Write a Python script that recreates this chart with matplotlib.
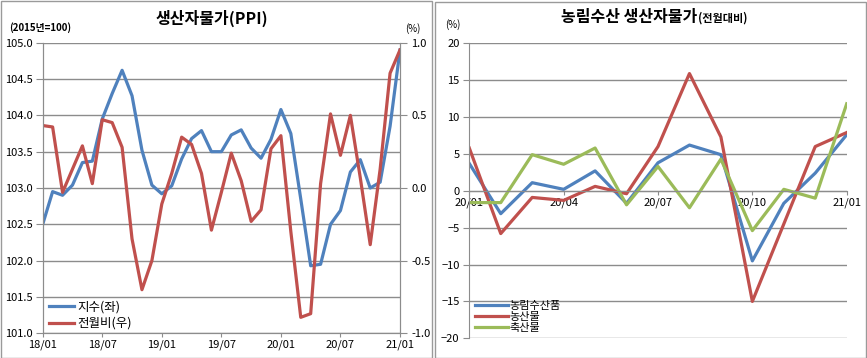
import matplotlib
matplotlib.use('Agg')
import matplotlib.pyplot as plt
from matplotlib.patches import Rectangle

plt.rcParams['font.family'] = ['Noto Sans CJK KR', 'DejaVu Sans']

# 생산자물가 (18/01 ~ 21/01, monthly)
ppi_months = ["18/01", "18/07", "19/01", "19/07", "20/01", "20/07", "21/01"]
ppi_index = [102.50, 102.95, 102.90, 103.04, 103.35, 103.37, 103.95, 104.30, 104.62, 104.27,
             103.52, 103.04, 102.92, 103.03, 103.40, 103.68, 103.79, 103.50, 103.50, 103.73,
             103.80, 103.55, 103.41, 103.67, 104.08, 103.75, 102.85, 101.93, 101.95, 102.50,
             102.69, 103.22, 103.39, 103.00, 103.08, 103.85, 104.90]
ppi_mom = [0.43, 0.42, -0.03, 0.13, 0.29, 0.03, 0.47, 0.45, 0.28, -0.35,
           -0.70, -0.50, -0.11, 0.10, 0.35, 0.30, 0.10, -0.29, -0.03, 0.24,
           0.05, -0.23, -0.15, 0.27, 0.36, -0.30, -0.89, -0.865, 0.03, 0.51,
           0.225, 0.50, 0.07, -0.39, 0.13, 0.79, 0.95]

# 농림수산 생산자물가 (20/01 ~ 21/01)
agri_months = ["20/01", "20/04", "20/07", "20/10", "21/01"]
agri_total = [3.7, -3.1, 1.1, 0.2, 2.7, -1.7, 3.8, 6.2, 4.9, -9.5, -1.7, 2.4, 7.6]
agri_farm = [5.8, -5.8, -0.9, -1.3, 0.6, -0.4, 6.0, 15.9, 7.3, -15.0, -4.5, 6.0, 7.9]
agri_live = [-1.6, -1.6, 4.9, 3.6, 5.8, -1.9, 3.3, -2.3, 4.3, -5.4, 0.2, -1.0, 11.8]

blue = '#4F81BD'
red = '#C0504D'
green = '#9BBB59'
grid = '#8C8C8C'

W, H = 867, 358
fig = plt.figure(figsize=(W / 100, H / 100), dpi=100)


def box(x0, y0, x1, y1):
    return [x0 / W, 1 - y1 / H, (x1 - x0) / W, (y1 - y0) / H]


# panel frames
for x0, y0, x1, y1 in [(0.5, 0.5, 431.5, 357.5), (434.5, 1.5, 866, 357.5)]:
    fig.patches.append(Rectangle((x0 / W, 1 - y1 / H), (x1 - x0) / W, (y1 - y0) / H,
                                 transform=fig.transFigure, fill=False,
                                 edgecolor='#9A9A9A', lw=1))

# ---- left chart ----
ax = fig.add_axes(box(42.7, 42.7, 400, 333.3))
x = list(range(len(ppi_index)))
ax.plot(x, ppi_index, color=blue, lw=2.3, label='지수(좌)')
ax.set_xlim(0, 36)
ax.set_ylim(101.0, 105.0)
ax.set_yticks([101.0 + 0.5 * i for i in range(9)])
ax.set_yticklabels(['%.1f' % (101.0 + 0.5 * i) for i in range(9)])
ax.set_xticks(list(range(0, 37, 6)))
ax.set_xticklabels(ppi_months)
ax.grid(axis='y', color=grid, lw=1)
ax.set_axisbelow(True)
ax.spines['top'].set_visible(False)
for s in ['left', 'right', 'bottom']:
    ax.spines[s].set_color(grid)
ax.tick_params(axis='y', length=5, color=grid, labelsize=8, pad=2)
ax.tick_params(axis='x', length=3, color=grid, labelsize=8, pad=1.5)

ax2 = ax.twinx()
ax2.plot(x, ppi_mom, color=red, lw=2.3, label='전월비(우)')
ax2.set_ylim(-1.0, 1.0)
ax2.set_yticks([-1.0, -0.5, 0.0, 0.5, 1.0])
ax2.set_yticklabels(['-1.0', '-0.5', '0.0', '0.5', '1.0'])
ax2.spines['top'].set_visible(False)
for s in ['left', 'right', 'bottom']:
    ax2.spines[s].set_color(grid)
ax2.tick_params(axis='y', length=5, color=grid, labelsize=8, pad=3)

h1, l1 = ax.get_legend_handles_labels()
h2, l2 = ax2.get_legend_handles_labels()
ax2.legend(h1 + h2, l1 + l2, loc='lower left', bbox_to_anchor=(0.0, -0.01),
           frameon=False, fontsize=9, handlelength=2.0, handletextpad=0.3,
           labelspacing=0.25, borderaxespad=0.2, borderpad=0.3)

fig.text(212 / W, 1 - 18 / H, '생산자물가(PPI)', ha='center', va='center',
         fontsize=11.5, fontweight='bold')
fig.text(9 / W, 1 - 28 / H, '(2015년=100)', ha='left', va='center',
         fontsize=7, fontweight='bold')
fig.text(413 / W, 1 - 29 / H, '(%)', ha='center', va='center', fontsize=7)

# ---- right chart ----
bx = fig.add_axes(box(469.3, 43.3, 846.7, 338.3))
xr = list(range(len(agri_total)))
bx.plot(xr, agri_total, color=blue, lw=2.3, label='농림수산품')
bx.plot(xr, agri_farm, color=red, lw=2.3, label='농산물')
bx.plot(xr, agri_live, color=green, lw=2.3, label='축산물')
bx.set_xlim(0, 12)
bx.set_ylim(-20, 20)
bx.set_yticks(list(range(-20, 21, 5)))
bx.grid(axis='y', color=grid, lw=1)
bx.set_axisbelow(True)
for s in ['top', 'right']:
    bx.spines[s].set_visible(False)
bx.spines['left'].set_color(grid)
bx.spines['bottom'].set_color(grid)
bx.spines['bottom'].set_position(('data', 0))
bx.set_xticks(list(range(0, 13, 3)))
bx.set_xticklabels(agri_months)
bx.tick_params(axis='y', length=4, color=grid, labelsize=8, pad=3)
bx.tick_params(axis='x', length=3, color=grid, labelsize=8, pad=2)
bx.legend(loc='lower left', bbox_to_anchor=(0.0, 0.0), frameon=False, fontsize=8,
          handlelength=3.0, handletextpad=0.1, labelspacing=0.1, borderaxespad=0.3,
          borderpad=0.2)

fig.text(697 / W, 1 - 17 / H, '농림수산 생산자물가', ha='right', va='center',
         fontsize=11.5, fontweight='bold')
fig.text(698 / W, 1 - 18 / H, '(전월대비)', ha='left', va='center',
         fontsize=8, fontweight='bold')
fig.text(453 / W, 1 - 25 / H, '(%)', ha='center', va='center', fontsize=7)

plt.savefig('out.png', dpi=100)
